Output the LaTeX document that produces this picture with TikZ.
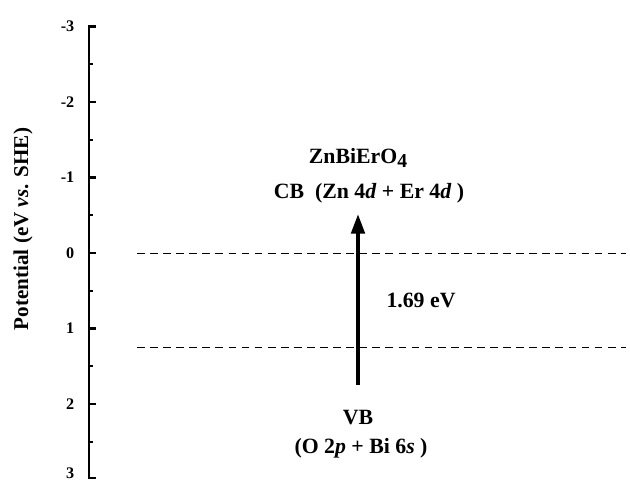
\documentclass[tikz,border=0pt]{standalone}
\usepackage{fontspec}
\setmainfont{Liberation Serif}
\usetikzlibrary{arrows.meta}

\begin{document}
\begin{tikzpicture}[x=0.025cm, y=-0.025cm,
    axisline/.style={line width=1.6pt},
    majortick/.style={line width=1.6pt},
    minortick/.style={line width=1.4pt},
    ticklabel/.style={anchor=east, inner sep=1pt, font=\fontsize{11.5}{13}\selectfont\bfseries},
    level/.style={line width=0.7pt, dash pattern=on 5.5pt off 3.8pt},
    bandtext/.style={align=center, inner sep=1pt, font=\fontsize{15.5}{18}\selectfont\bfseries},
    gaparrow/.style={-{Triangle[length=14pt, width=9.5pt]}, line width=2.8pt}
]
\useasboundingbox (0,0) rectangle (630,483);

% potential axis (75.5 px per eV, 0 eV at y=253)
\coordinate (axtop) at (89,25);
\coordinate (axbot) at (89,478);
\draw[axisline] (axtop) -- (axbot);
\foreach \v/\t in {-3/-3, -2/-2, -1/-1, 0/0, 1/1, 2/2} {
    \draw[majortick] (88.2,253+75.5*\v) -- (96,253+75.5*\v);
    \node[ticklabel] (tick\v) at (76,253+75.5*\v) {\t};
}
\draw[majortick] (88.2,478) -- (96,478);
\node[ticklabel] (tick3) at (76,473) {3};
\foreach \v in {-2.5, -1.5, -0.5, 0.5, 1.5, 2.5}
    \draw[minortick] (89,253+75.5*\v) -- (92.5,253+75.5*\v);

\node[rotate=90, font=\fontsize{15}{17}\selectfont\bfseries] (ylabel) at (23,229)
    {Potential (eV \textit{vs}. SHE)};

% band edges
\coordinate (cbl) at (137,253);
\coordinate (cbr) at (626,253);
\coordinate (vbl) at (137,347);
\coordinate (vbr) at (626,347);
\draw[level] (cbl) -- (cbr);
\draw[level] (vbl) -- (vbr);

\node[bandtext] (name) at (358,158) {ZnBiErO\raisebox{-0.45ex}{\fontsize{14}{14}\selectfont 4}};
\node[bandtext] (cb) at (369,193) {CB\ \ (Zn 4\textit{d} + Er 4\textit{d} )};
\node[bandtext] (vb) at (358,418) {VB};
\node[bandtext] (vbo) at (361,448) {(O 2\textit{p} + Bi 6\textit{s} )};
\node[bandtext] (gap) at (421,300) {1.69 eV};

\coordinate (arrbot) at (358,385);
\coordinate (arrtop) at (358,214);
\draw[gaparrow] (arrbot) -- (arrtop);

\end{tikzpicture}
\end{document}
